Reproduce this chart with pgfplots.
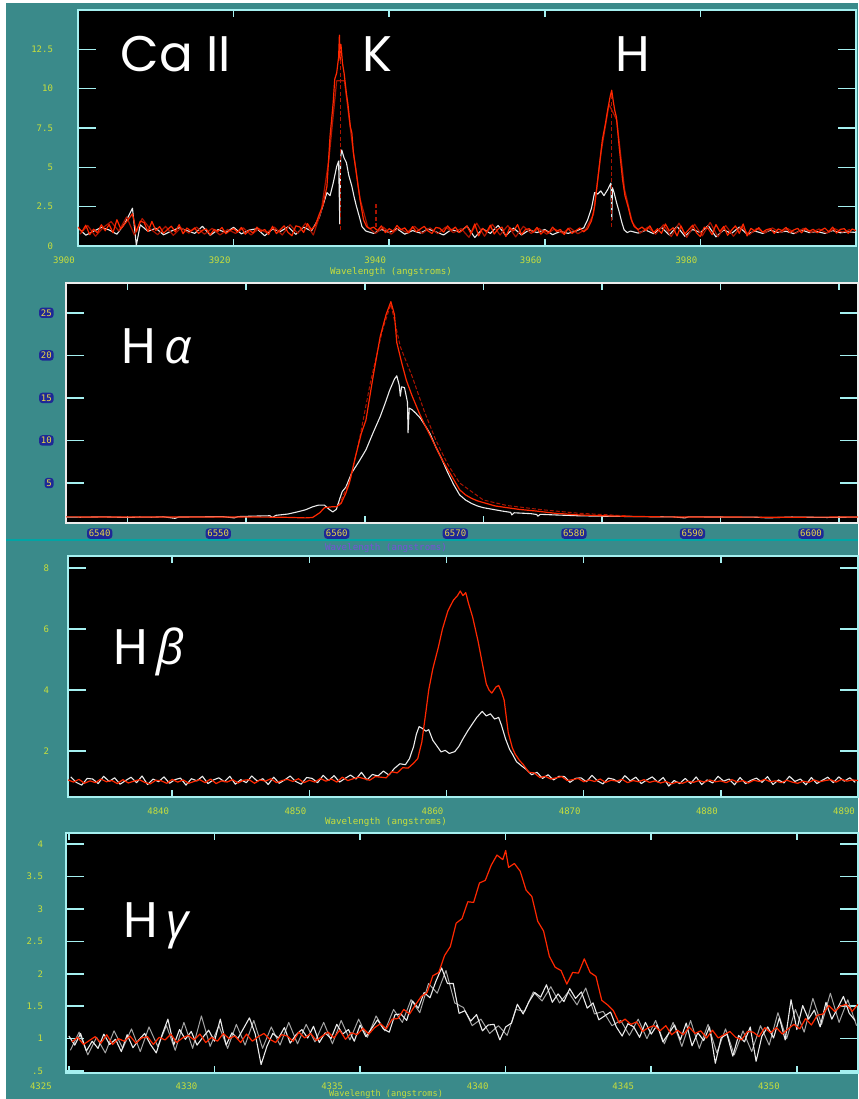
\documentclass[border=0pt]{standalone}
\usepackage{fontspec}
\usepackage{pgfplots}
\pgfplotsset{compat=1.18}
\setmonofont{DejaVu Sans Mono}
\newfontfamily\titlefont{Poppins}
\newfontfamily\greekfont{Open Sans}
\definecolor{bgteal}{RGB}{58,138,138}
\definecolor{axcyan}{RGB}{165,240,240}
\definecolor{tickyel}{RGB}{200,222,60}
\definecolor{specwhite}{RGB}{235,235,235}
\definecolor{specgrey}{RGB}{165,165,165}
\definecolor{specred}{RGB}{255,40,0}
\definecolor{darkred}{RGB}{170,20,0}
\definecolor{bluebox}{RGB}{30,40,150}
\definecolor{boxyel}{RGB}{235,215,70}
\definecolor{violettxt}{RGB}{120,80,215}
\definecolor{sepcyan}{RGB}{0,165,165}
\pgfplotsset{
  spec/.style={
    scale only axis, anchor=south west,
    axis background/.style={fill=black},
    axis line style={draw=axcyan, line width=0.8pt},
    tick align=inside,
    tick style={draw=axcyan, line width=0.8pt},
    xtick style={/pgfplots/major tick length=3.5pt},
    ytick style={/pgfplots/major tick length=9pt},
    tick label style={font=\ttfamily\fontsize{4.5}{5}\selectfont, text=tickyel},
    /pgf/number format/assume math mode=true,
    xticklabel style={xshift=-7pt, yshift=-2pt},
    scaled ticks=false,
    clip=true,
  },
  wline/.style={specwhite, line width=0.55pt, line join=round},
  gline/.style={specgrey, line width=0.5pt, line join=round},
  rline/.style={specred, line width=0.6pt, line join=round},
  drline/.style={darkred, line width=0.6pt, line join=round},
}
\begin{document}
\begin{tikzpicture}
\useasboundingbox (0pt,0pt) rectangle (429pt,549.5pt);
\fill[bgteal] (0pt,0pt) rectangle (429pt,549.5pt);
\fill[white] (0pt,0pt) rectangle (3pt,549.5pt);
\fill[white] (0pt,548pt) rectangle (429pt,549.5pt);
\draw[sepcyan, line width=1.2pt] (3pt,279.5pt) -- (429pt,279.5pt);

% ---------------- Panel 1: Ca II ----------------
\begin{axis}[spec, at={(39pt,426.5pt)}, width=389pt, height=118pt,
  xmin=3900, xmax=4000, ymin=0, ymax=15,
  xtick={3900,3920,3940,3960,3980}, xticklabels={3900,3920,3940,3960,3980},
  ytick={0,2.5,5,7.5,10,12.5}, yticklabels={0,2.5,5,7.5,10,12.5},
  yticklabel style={xshift=-9pt}]
\addplot[wline] coordinates {(3900,1.15)(3901,0.69)(3902,0.94)(3903,1.18)(3904,1.02)(3905,0.75)(3906,1.42)(3907,2.40)(3907.5,0.05)(3908,1.35)(3909,0.93)(3910,1.13)(3911,0.71)(3912,0.95)(3913,1.16)(3914,0.98)(3915,0.80)(3916,1.25)(3917,0.68)(3918,1.04)(3919,0.86)(3920,1.19)(3921,0.77)(3922,1.01)(3923,1.10)(3924,0.65)(3925,1.07)(3926,0.92)(3927,1.22)(3928,0.74)(3929,1.20)(3930,0.95)(3931,1.8)(3931.5,2.6)(3932,3.4)(3932.4,3.2)(3932.8,4.0)(3933.25,5.05)(3933.5,5.4)(3933.65,1.4)(3933.75,5.6)(3933.9,6.1)(3934.2,5.6)(3934.5,5.3)(3934.8,4.5)(3935.2,3.8)(3935.5,3.1)(3935.8,2.5)(3936.2,1.8)(3936.5,1.23)(3937,0.95)(3938,0.80)(3939,1.05)(3940,0.86)(3941,1.10)(3942,0.75)(3943,0.98)(3944,0.82)(3945,1.08)(3946,0.90)(3947,0.70)(3948,1.05)(3949,0.88)(3950,1.26)(3951,0.54)(3952,1.10)(3953,0.80)(3954,1.30)(3955,0.66)(3956,1.14)(3957,0.70)(3958,1.02)(3959,0.85)(3960,1.05)(3961,0.72)(3962,0.93)(3963,0.80)(3964,0.95)(3965,1.15)(3965.5,1.66)(3966,2.4)(3966.4,3.4)(3966.8,3.3)(3967.2,3.5)(3967.6,3.2)(3968.1,3.6)(3968.5,4.0)(3968.6,1.66)(3968.7,3.7)(3968.9,3.4)(3969.2,2.8)(3969.6,2.1)(3969.9,1.5)(3970.2,1.02)(3970.6,0.85)(3971,0.95)(3972,0.82)(3973,1.00)(3974,0.78)(3975,1.18)(3976,0.70)(3977,1.25)(3978,0.62)(3979,1.05)(3980,0.85)(3981,1.30)(3982,0.58)(3983,1.02)(3984,0.80)(3985,1.20)(3986,0.75)(3987,0.95)(3988,0.80)(3989,1.00)(3990,0.86)(3991,0.94)(3992,0.78)(3993,1.02)(3994,0.85)(3995,0.92)(3996,0.80)(3997,0.98)(3998,0.84)(3999,0.90)(4000,0.86)};
\addplot[drline] coordinates {(3900.25,0.75)(3901.25,1.30)(3902.25,0.62)(3903.25,1.18)(3904.25,1.55)(3905.25,0.95)(3906.25,1.85)(3907.25,0.70)(3908.25,1.75)(3909.25,1.10)(3910.25,0.72)(3911.25,1.25)(3912.25,0.68)(3913.25,1.15)(3914.25,0.82)(3915.25,1.20)(3916.25,0.75)(3917.25,1.12)(3918.25,0.70)(3919.25,1.05)(3920.25,0.80)(3921.25,1.15)(3922.25,0.70)(3923.25,1.10)(3924.25,0.85)(3925.25,1.20)(3926.25,0.70)(3927.25,1.35)(3928.25,0.80)(3929.25,1.45)(3930.25,0.70)(3931.25,2.2)(3932.25,5.5)(3933.25,10.5)(3934.25,10.5)(3935.25,6.5)(3936.25,3.0)(3937.25,1.2)(3938.25,0.80)(3939.25,1.20)(3940.25,0.75)(3941.25,1.15)(3942.25,0.85)(3943.25,1.25)(3944.25,0.80)(3945.25,1.15)(3946.25,0.78)(3947.25,1.20)(3948.25,0.85)(3949.25,1.10)(3950.25,0.55)(3951.25,1.45)(3952.25,0.62)(3953.25,1.38)(3954.25,0.70)(3955.25,1.30)(3956.25,0.58)(3957.25,1.25)(3958.25,0.80)(3959.25,1.12)(3960.25,0.75)(3961.25,1.08)(3962.25,0.82)(3963.25,1.15)(3964.25,0.78)(3965.25,1.05)(3966.25,2.0)(3967.25,6.0)(3968.25,9.0)(3969.25,8.0)(3970.25,3.6)(3971.25,1.5)(3972.25,0.82)(3973.25,1.20)(3974.25,0.75)(3975.25,1.35)(3976.25,0.60)(3977.25,1.45)(3978.25,0.55)(3979.25,1.38)(3980.25,0.65)(3981.25,1.50)(3982.25,0.58)(3983.25,1.30)(3984.25,0.62)(3985.25,1.25)(3986.25,0.70)(3987.25,1.12)(3988.25,0.82)(3989.25,1.15)(3990.25,0.85)(3991.25,1.10)(3992.25,0.80)(3993.25,1.12)(3994.25,0.86)(3995.25,1.08)(3996.25,0.82)(3997.25,1.10)(3998.25,0.88)(3999.25,1.05)};
\addplot[rline] coordinates {(3900,1.21)(3900.5,0.90)(3901,1.32)(3901.5,0.72)(3902,1.07)(3902.5,0.83)(3903,1.35)(3903.5,0.97)(3904,1.36)(3904.5,0.84)(3905,1.67)(3905.5,1.08)(3906,1.40)(3906.5,1.71)(3907,2.05)(3907.5,0.90)(3908,1.58)(3908.5,1.49)(3909,0.92)(3909.5,1.56)(3910,0.99)(3910.5,1.23)(3911,0.81)(3911.5,1.05)(3912,1.26)(3912.5,0.90)(3913,1.35)(3913.5,0.78)(3914,1.14)(3914.5,0.96)(3915,1.15)(3915.5,0.80)(3916,1.00)(3916.5,1.08)(3917,0.70)(3917.5,1.05)(3918,0.93)(3918.5,1.18)(3919,0.78)(3919.5,0.98)(3920,1.10)(3920.5,0.88)(3921,1.18)(3921.5,0.75)(3922,1.00)(3922.5,0.83)(3923,1.20)(3923.5,0.93)(3924,1.05)(3924.5,0.73)(3925,1.25)(3925.5,0.79)(3926,1.04)(3926.5,1.28)(3927,0.86)(3927.5,0.65)(3928,1.28)(3928.5,1.21)(3929,0.86)(3929.5,1.42)(3930,1.03)(3930.5,1.31)(3931,2.0)(3931.5,2.6)(3932,3.8)(3932.4,7.0)(3932.8,9.1)(3933,10.6)(3933.25,11.0)(3933.5,12.0)(3933.6,13.4)(3933.7,11.8)(3933.8,12.8)(3934,11.6)(3934.2,11.0)(3934.5,9.7)(3934.7,9.0)(3935,7.6)(3935.2,7.2)(3935.4,5.9)(3935.7,4.9)(3936,3.8)(3936.3,2.8)(3936.7,1.66)(3937.1,1.23)(3937.5,1.10)(3938,1.20)(3938.5,0.98)(3939,1.28)(3939.5,0.85)(3940,1.10)(3940.5,0.93)(3941,1.30)(3941.5,1.03)(3942,1.15)(3942.5,0.83)(3943,1.23)(3943.5,0.90)(3944,1.08)(3944.5,1.25)(3945,0.95)(3945.5,0.80)(3946,1.18)(3946.5,1.13)(3947,0.88)(3947.5,1.28)(3948,1.00)(3948.5,1.20)(3949,0.85)(3949.5,1.05)(3950,1.28)(3950.5,0.80)(3951,1.40)(3951.5,0.64)(3952,1.12)(3952.5,0.88)(3953,1.32)(3953.5,0.76)(3954,1.08)(3954.5,1.20)(3955,0.60)(3955.5,1.16)(3956,0.96)(3956.5,1.36)(3957,0.72)(3957.5,1.04)(3958,1.10)(3958.5,0.88)(3959,1.18)(3959.5,0.75)(3960,1.00)(3960.5,0.83)(3961,1.20)(3961.5,0.93)(3962,1.05)(3962.5,0.73)(3963,1.13)(3963.5,0.80)(3964,0.98)(3964.5,1.15)(3965,0.90)(3965.5,1.10)(3966,1.6)(3966.4,2.5)(3966.8,4.2)(3967.1,5.5)(3967.4,6.75)(3967.8,7.8)(3968.1,8.7)(3968.4,9.5)(3968.6,9.9)(3968.8,9.2)(3969,8.6)(3969.2,8.2)(3969.6,6.1)(3970,4.2)(3970.3,3.2)(3970.7,2.5)(3971.1,1.7)(3971.5,1.23)(3972,1.05)(3972.5,1.20)(3973,0.98)(3973.5,1.28)(3974,0.85)(3974.5,1.10)(3975,0.80)(3975.5,1.40)(3976,0.96)(3976.5,1.16)(3977,0.64)(3977.5,1.28)(3978,0.76)(3978.5,1.04)(3979,1.32)(3979.5,0.84)(3980,0.60)(3980.5,1.20)(3981,1.12)(3981.5,0.72)(3982,1.36)(3982.5,0.92)(3983,1.24)(3983.5,0.68)(3984,1.00)(3984.5,1.28)(3985,0.80)(3985.5,1.40)(3986,0.64)(3986.5,1.12)(3987,0.94)(3987.5,1.16)(3988,0.88)(3988.5,1.04)(3989,1.10)(3989.5,0.80)(3990,1.08)(3990.5,0.98)(3991,1.18)(3991.5,0.86)(3992,1.02)(3992.5,1.12)(3993,0.84)(3993.5,1.14)(3994,0.94)(3994.5,1.06)(3995,0.84)(3995.5,1.00)(3996,1.14)(3996.5,0.90)(3997,1.20)(3997.5,0.82)(3998,1.06)(3998.5,1.10)(3999,0.80)(3999.5,1.08)(4000,0.98)};
\addplot[darkred, line width=0.6pt, dash pattern=on 2pt off 1.2pt] coordinates {(3933.7,1.0)(3933.7,12.5)};
\addplot[darkred, line width=0.6pt, dash pattern=on 2pt off 1.2pt] coordinates {(3968.6,1.2)(3968.6,9.6)};
\addplot[darkred, line width=0.6pt, dash pattern=on 2pt off 1.2pt] coordinates {(3938.3,1.2)(3938.3,2.8)};
\end{axis}

% ---------------- Panel 2: H alpha ----------------
\begin{axis}[spec, at={(33pt,288pt)}, width=396pt, height=120pt,
  xmin=6534.8, xmax=6601.6, ymin=0.3, ymax=28.5,
  axis line style={draw=white!85!gray, line width=1pt},
  xtick={6540,6550,6560,6570,6580,6590,6600}, xticklabels={6540,6550,6560,6570,6580,6590,6600},
  ytick={5,10,15,20,25}, yticklabels={5,10,15,20,25},
  tick label style={text=boxyel, fill=bluebox, rounded corners=1.5pt, inner sep=0.9pt},
  xticklabel style={xshift=-7pt, yshift=-0.5pt},
  yticklabel style={xshift=-6pt}]
\addplot[wline] coordinates {(6534.8,1.00)(6536,0.98)(6538,1.02)(6540,0.95)(6541,1.00)(6542,0.98)(6543,1.03)(6544,0.85)(6544.3,1.00)(6546,1.02)(6548,1.05)(6549,0.90)(6549.3,1.05)(6550,1.08)(6551,1.12)(6552,1.15)(6552.2,0.95)(6552.5,1.2)(6553.5,1.35)(6554.3,1.6)(6555,1.85)(6555.6,2.2)(6556.1,2.4)(6556.6,2.4)(6557,1.9)(6557.3,1.6)(6557.6,1.9)(6557.9,3.2)(6558.1,4.0)(6558.4,4.5)(6558.9,6.2)(6559.5,7.5)(6560.1,8.9)(6560.7,10.9)(6561.3,12.8)(6561.7,14.3)(6562.1,15.9)(6562.5,17.2)(6562.7,17.6)(6562.9,16.5)(6563,15.2)(6563.1,16.3)(6563.35,16.2)(6563.6,14.5)(6563.65,10.9)(6563.75,13.8)(6564,13.6)(6564.3,13.2)(6564.7,12.6)(6565.2,11.5)(6565.5,10.8)(6566,9.2)(6566.5,7.8)(6567,6.2)(6567.5,4.8)(6568,3.6)(6568.5,3.0)(6569,2.6)(6569.5,2.3)(6570,2.1)(6571,1.85)(6571.6,1.7)(6572.3,1.55)(6572.4,1.25)(6572.6,1.5)(6574,1.40)(6574.5,1.3)(6574.6,1.1)(6574.8,1.32)(6576,1.25)(6578,1.15)(6580,1.1)(6583,1.05)(6586,1.02)(6587,0.9)(6587.3,1.02)(6590,1.0)(6593,0.98)(6594,0.9)(6596,1.0)(6599,0.95)(6601.6,1.0)};
\addplot[darkred, line width=0.5pt, dash pattern=on 2pt off 1pt] coordinates {(6557.8,2.3)(6558.8,5.5)(6559.6,10.5)(6560.5,17)(6561.5,23)(6562.2,26.0)(6562.6,23.5)(6563,21)(6564,17.5)(6565,13.5)(6566,10.0)(6567,7.2)(6568,5.0)(6570,3.0)(6572,2.35)(6575,1.85)(6578,1.45)(6582,1.15)};
\addplot[rline] coordinates {(6534.8,1.02)(6540,1.0)(6545,1.0)(6550,1.0)(6553,0.98)(6555,0.90)(6555.6,0.95)(6556.2,1.5)(6556.6,2.1)(6557.2,2.2)(6557.6,2.2)(6558,2.6)(6558.4,3.8)(6558.7,5.0)(6559.2,8.0)(6559.7,10.8)(6560.1,12.4)(6560.7,17.5)(6561.3,22.2)(6561.8,24.8)(6562.2,26.3)(6562.5,24.8)(6562.7,21.5)(6563.1,19.2)(6563.5,17.1)(6564,15.2)(6564.6,13.2)(6565,12.0)(6565.5,10.6)(6566,9.2)(6566.5,7.8)(6567,6.6)(6567.5,5.4)(6568,4.2)(6568.5,3.6)(6569,3.2)(6569.5,2.9)(6570,2.7)(6571,2.3)(6572,2.1)(6573,1.9)(6574.5,1.7)(6576,1.45)(6578,1.25)(6580,1.15)(6582.4,1.08)(6585,1.02)(6590,1.0)(6595,0.98)(6601.6,1.0)};
\end{axis}

% ---------------- Panel 3: H beta ----------------
\begin{axis}[spec, at={(34pt,151pt)}, width=395pt, height=120.5pt,
  xmin=4832.4, xmax=4890, ymin=0.49, ymax=8.4,
  xtick={4840,4850,4860,4870,4880,4890}, xticklabels={4840,4850,4860,4870,4880,4890},
  ytick={2,4,6,8}, yticklabels={2,4,6,8},
  yticklabel style={xshift=-6pt}]
\addplot[wline] coordinates {(4832.6,1.15)(4833,0.97)(4833.4,0.88)(4833.8,1.10)(4834.2,1.08)(4834.6,0.93)(4835,1.17)(4835.4,1.00)(4835.8,1.12)(4836.2,0.91)(4836.6,1.03)(4837,1.14)(4837.4,0.96)(4837.8,1.18)(4838.2,0.90)(4838.6,1.08)(4839,0.99)(4839.4,1.15)(4839.8,0.94)(4840.2,1.06)(4840.6,1.11)(4841,0.88)(4841.4,1.09)(4841.8,1.02)(4842.2,1.17)(4842.6,0.93)(4843,1.05)(4843.4,1.12)(4843.8,0.99)(4844.2,1.17)(4844.6,0.91)(4845,1.06)(4845.4,0.96)(4845.8,1.18)(4846.2,1.01)(4846.6,1.09)(4847,0.90)(4847.4,1.14)(4847.8,0.94)(4848.2,1.05)(4848.6,1.18)(4849,1.00)(4849.4,0.91)(4849.8,1.13)(4850.2,1.10)(4850.6,0.96)(4851,1.20)(4851.4,1.03)(4851.8,1.19)(4852.2,0.98)(4852.6,1.10)(4853,1.21)(4853.4,1.08)(4853.8,1.30)(4854.2,1.05)(4854.6,1.23)(4855,1.18)(4855.4,1.34)(4855.8,1.21)(4856.2,1.43)(4856.6,1.58)(4857,1.55)(4857.3,1.75)(4857.6,2.15)(4857.8,2.55)(4858,2.80)(4858.2,2.75)(4858.5,2.65)(4858.7,2.70)(4859,2.35)(4859.4,2.10)(4859.6,1.97)(4859.9,2.02)(4860.2,1.92)(4860.6,1.98)(4860.9,2.15)(4861.2,2.40)(4861.6,2.70)(4861.9,2.90)(4862.2,3.10)(4862.6,3.30)(4862.9,3.15)(4863.2,3.22)(4863.5,3.05)(4863.8,3.10)(4864,2.85)(4864.3,2.40)(4864.6,2.05)(4864.8,1.90)(4865.1,1.65)(4865.5,1.50)(4865.8,1.40)(4866.2,1.22)(4866.6,1.30)(4867,1.10)(4867.4,1.22)(4867.8,1.05)(4868.2,1.17)(4868.6,1.16)(4869,0.97)(4869.4,1.10)(4869.8,1.12)(4870.2,0.99)(4870.6,1.20)(4871,1.02)(4871.4,0.92)(4871.8,1.11)(4872.2,1.07)(4872.6,0.96)(4873,1.19)(4873.4,1.02)(4873.8,1.14)(4874.2,0.93)(4874.6,1.05)(4875,1.15)(4875.4,0.98)(4875.8,1.13)(4876.2,0.85)(4876.6,1.03)(4877,0.93)(4877.4,1.10)(4877.8,0.93)(4878.2,1.15)(4878.6,0.90)(4879,1.05)(4879.4,0.95)(4879.8,1.17)(4880.2,1.01)(4880.6,1.08)(4881,0.89)(4881.4,1.13)(4881.8,0.93)(4882.2,1.04)(4882.6,1.11)(4883,0.97)(4883.4,1.16)(4883.8,0.90)(4884.2,1.05)(4884.6,0.95)(4885,1.17)(4885.4,1.00)(4885.8,1.08)(4886.2,0.89)(4886.6,1.13)(4887,0.93)(4887.4,1.04)(4887.8,1.14)(4888.2,0.96)(4888.6,1.15)(4889,1.01)(4889.4,1.12)(4889.8,0.97)};
\addplot[rline] coordinates {(4832.4,1.05)(4832.8,0.98)(4833.2,1.07)(4833.6,0.94)(4834,1.02)(4834.4,0.96)(4834.8,1.08)(4835.2,0.99)(4835.6,1.03)(4836,0.93)(4836.4,1.06)(4836.8,0.95)(4837.2,1.01)(4837.6,1.06)(4838,0.97)(4838.4,0.92)(4838.8,1.04)(4839.2,1.02)(4839.6,0.94)(4840,1.07)(4840.4,0.98)(4840.8,1.05)(4841.2,0.94)(4841.6,1.00)(4842,1.06)(4842.4,0.96)(4842.8,1.08)(4843.2,0.93)(4843.6,1.02)(4844,0.98)(4844.4,1.06)(4844.8,0.95)(4845.2,1.04)(4845.6,1.06)(4846,0.94)(4846.4,1.05)(4846.8,1.01)(4847.2,1.09)(4847.6,0.96)(4848,1.03)(4848.4,1.07)(4848.8,1.00)(4849.2,1.09)(4849.6,0.96)(4850,1.04)(4850.4,0.98)(4850.8,1.10)(4851.2,1.01)(4851.6,1.08)(4852,0.98)(4852.4,1.14)(4852.8,1.03)(4853.2,1.09)(4853.6,1.14)(4854,1.09)(4854.4,1.04)(4854.8,1.16)(4855.2,1.14)(4855.6,1.12)(4856,1.32)(4856.4,1.28)(4856.8,1.45)(4857.2,1.44)(4857.6,1.60)(4857.9,1.75)(4858.2,2.3)(4858.5,3.3)(4858.7,4.0)(4859,4.7)(4859.4,5.4)(4859.7,6.0)(4860.1,6.6)(4860.5,6.95)(4860.8,7.1)(4861,7.25)(4861.2,7.1)(4861.4,7.2)(4861.6,6.85)(4861.9,6.4)(4862.3,5.6)(4862.6,4.9)(4862.9,4.2)(4863.1,4.0)(4863.3,3.9)(4863.6,4.1)(4863.8,4.15)(4864,3.95)(4864.2,3.67)(4864.5,2.6)(4864.8,2.1)(4865,1.9)(4865.3,1.7)(4865.6,1.55)(4866,1.30)(4866.4,1.28)(4866.8,1.13)(4867.2,1.17)(4867.6,1.08)(4868,1.12)(4868.4,1.16)(4868.8,1.03)(4869.2,1.06)(4869.6,1.10)(4870,0.99)(4870.4,1.05)(4870.8,1.00)(4871.2,1.08)(4871.6,0.97)(4872,1.04)(4872.4,1.01)(4872.8,1.07)(4873.2,0.96)(4873.6,1.03)(4874,0.99)(4874.4,1.06)(4874.8,0.97)(4875.2,1.02)(4875.6,0.95)(4876,1.00)(4876.4,0.92)(4876.8,0.98)(4877.2,0.94)(4877.6,1.01)(4878,0.97)(4878.4,1.03)(4878.8,0.98)(4879.2,1.05)(4879.6,0.99)(4880,1.02)(4880.4,0.96)(4880.8,1.06)(4881.2,0.98)(4881.6,1.03)(4882,0.95)(4882.4,1.04)(4882.8,1.00)(4883.2,1.07)(4883.6,0.99)(4884,1.02)(4884.4,0.96)(4884.8,1.04)(4885.2,0.98)(4885.6,0.94)(4886,1.01)(4886.4,0.97)(4886.8,1.05)(4887.2,0.99)(4887.6,1.03)(4888,1.06)(4888.4,0.98)(4888.8,1.07)(4889.2,1.01)(4889.6,1.05)(4890,1.03)};
\end{axis}

% ---------------- Panel 4: H gamma ----------------
\begin{axis}[spec, at={(33pt,13pt)}, width=396pt, height=120pt,
  xmin=4324.9, xmax=4352.1, ymin=0.47, ymax=4.17,
  xtick={4325,4330,4335,4340,4345,4350}, xticklabels={4325,4330,4335,4340,4345,4350},
  xticklabel style={xshift=-7pt, yshift=0.5pt},
  ytick={0.5,1,1.5,2,2.5,3,3.5,4}, yticklabels={.5,1,1.5,2,2.5,3,3.5,4},
  yticklabel style={xshift=-8pt}]
\addplot[gline] coordinates {(4325.05,0.82)(4325.35,1.10)(4325.65,0.75)(4325.95,1.02)(4326.25,0.78)(4326.55,1.12)(4326.85,0.85)(4327.15,1.15)(4327.45,0.80)(4327.75,1.18)(4328.05,0.88)(4328.35,1.20)(4328.65,0.82)(4328.95,1.25)(4329.25,0.85)(4329.55,1.35)(4329.85,0.88)(4330.15,1.20)(4330.45,0.85)(4330.75,1.22)(4331.05,0.90)(4331.35,1.28)(4331.65,0.85)(4331.95,1.18)(4332.25,0.90)(4332.55,1.25)(4332.85,0.92)(4333.15,1.22)(4333.45,0.95)(4333.75,1.25)(4334.05,0.92)(4334.35,1.28)(4334.65,0.98)(4334.95,1.30)(4335.25,1.02)(4335.55,1.35)(4335.85,1.12)(4336.15,1.45)(4336.45,1.25)(4336.75,1.60)(4337.05,1.40)(4337.35,1.85)(4337.65,1.70)(4337.95,2.05)(4338.25,1.55)(4338.55,1.48)(4338.85,1.20)(4339.15,1.30)(4339.45,1.08)(4339.75,1.20)(4340.05,1.05)(4340.35,1.45)(4340.65,1.42)(4340.95,1.72)(4341.25,1.58)(4341.55,1.80)(4341.85,1.55)(4342.15,1.72)(4342.45,1.52)(4342.75,1.78)(4343.05,1.38)(4343.35,1.42)(4343.65,1.20)(4343.95,1.28)(4344.25,1.05)(4344.55,1.30)(4344.85,1.00)(4345.15,1.28)(4345.45,0.92)(4345.75,1.25)(4346.05,0.88)(4346.35,1.28)(4346.65,0.85)(4346.95,1.22)(4347.25,0.78)(4347.55,1.15)(4347.85,0.75)(4348.15,1.12)(4348.45,0.80)(4348.75,1.20)(4349.05,0.90)(4349.35,1.40)(4349.65,1.00)(4349.95,1.45)(4350.25,1.10)(4350.55,1.62)(4350.85,1.22)(4351.15,1.70)(4351.45,1.25)(4351.75,1.60)(4352.05,1.20)};
\addplot[wline] coordinates {(4325,1.04)(4325.2,0.90)(4325.4,1.08)(4325.6,0.81)(4325.8,0.96)(4326,0.85)(4326.2,1.07)(4326.4,0.91)(4326.6,0.99)(4326.8,0.80)(4327,1.06)(4327.2,0.86)(4327.4,0.98)(4327.6,1.08)(4327.8,0.91)(4328,0.78)(4328.2,1.06)(4328.4,1.30)(4328.6,0.90)(4328.8,1.14)(4329,0.99)(4329.2,1.11)(4329.4,0.90)(4329.6,1.02)(4329.8,1.13)(4330,0.96)(4330.2,1.30)(4330.4,0.90)(4330.6,1.09)(4330.8,1.00)(4331,1.16)(4331.2,1.32)(4331.4,1.07)(4331.6,0.60)(4331.8,0.88)(4332,1.08)(4332.2,1.01)(4332.4,1.17)(4332.6,0.93)(4332.8,1.06)(4333,1.14)(4333.2,1.01)(4333.4,1.19)(4333.6,0.94)(4333.8,1.09)(4334,1.00)(4334.2,1.22)(4334.4,1.07)(4334.6,1.14)(4334.8,0.96)(4335,1.21)(4335.2,1.03)(4335.4,1.16)(4335.6,1.29)(4335.8,1.15)(4336,1.10)(4336.2,1.37)(4336.4,1.38)(4336.6,1.28)(4336.8,1.58)(4337,1.47)(4337.2,1.71)(4337.4,1.63)(4337.6,1.88)(4337.8,2.09)(4338,1.85)(4338.2,1.85)(4338.4,1.39)(4338.6,1.43)(4338.8,1.27)(4339,1.37)(4339.2,1.12)(4339.4,1.21)(4339.6,1.22)(4339.8,0.98)(4340,1.18)(4340.2,1.24)(4340.4,1.53)(4340.6,1.38)(4340.8,1.57)(4341,1.71)(4341.2,1.64)(4341.4,1.83)(4341.6,1.56)(4341.8,1.69)(4342,1.57)(4342.2,1.77)(4342.4,1.62)(4342.6,1.72)(4342.8,1.47)(4343,1.55)(4343.2,1.29)(4343.4,1.35)(4343.6,1.41)(4343.8,1.18)(4344,1.04)(4344.2,1.23)(4344.4,1.18)(4344.6,1.02)(4344.8,1.25)(4345,1.07)(4345.2,1.21)(4345.4,0.95)(4345.6,1.08)(4345.8,1.21)(4346,0.98)(4346.2,1.24)(4346.4,0.89)(4346.6,1.09)(4346.8,0.97)(4347,1.18)(4347.2,0.62)(4347.4,1.01)(4347.6,1.07)(4347.8,0.73)(4348,1.05)(4348.2,0.95)(4348.4,1.18)(4348.6,0.65)(4348.8,1.04)(4349,1.18)(4349.2,1.01)(4349.4,1.32)(4349.6,0.98)(4349.8,1.60)(4350,1.14)(4350.2,1.51)(4350.4,1.30)(4350.6,1.44)(4350.8,1.18)(4351,1.56)(4351.2,1.30)(4351.4,1.47)(4351.6,1.65)(4351.8,1.39)(4352,1.28)};
\addplot[rline] coordinates {(4325.1,0.95)(4325.3,1.02)(4325.5,0.91)(4325.7,0.97)(4325.9,1.03)(4326.1,0.93)(4326.3,1.06)(4326.5,0.91)(4326.7,1.00)(4326.9,0.96)(4327.1,1.04)(4327.3,0.93)(4327.5,1.01)(4327.7,1.03)(4327.9,0.91)(4328.1,1.02)(4328.3,0.98)(4328.5,1.07)(4328.7,0.94)(4328.9,1.01)(4329.1,1.05)(4329.3,0.98)(4329.5,1.07)(4329.7,0.94)(4329.9,1.02)(4330.1,0.96)(4330.3,1.08)(4330.5,1.00)(4330.7,1.04)(4330.9,0.94)(4331.1,1.07)(4331.3,0.96)(4331.5,1.03)(4331.7,1.08)(4331.9,0.99)(4332.1,0.94)(4332.3,1.06)(4332.5,1.04)(4332.7,0.96)(4332.9,1.10)(4333.1,1.01)(4333.3,1.08)(4333.5,0.97)(4333.7,1.04)(4333.9,1.10)(4334.1,1.01)(4334.3,1.13)(4334.5,0.99)(4334.7,1.09)(4334.9,1.06)(4335.1,1.16)(4335.3,1.07)(4335.5,1.17)(4335.7,1.23)(4335.9,1.15)(4336.1,1.30)(4336.3,1.31)(4336.5,1.45)(4336.7,1.38)(4336.9,1.52)(4337.1,1.65)(4337.3,1.71)(4337.5,1.97)(4337.7,2.02)(4337.9,2.28)(4338.1,2.42)(4338.3,2.78)(4338.5,2.85)(4338.7,3.11)(4338.9,3.10)(4339.1,3.40)(4339.3,3.44)(4339.5,3.67)(4339.7,3.83)(4339.9,3.76)(4340,3.90)(4340.1,3.64)(4340.3,3.70)(4340.5,3.58)(4340.7,3.29)(4340.9,3.19)(4341.1,2.81)(4341.3,2.66)(4341.5,2.27)(4341.7,2.10)(4341.9,2.05)(4342.1,1.84)(4342.3,2.02)(4342.5,2.01)(4342.7,2.23)(4342.9,2.02)(4343.1,1.96)(4343.3,1.59)(4343.5,1.52)(4343.7,1.43)(4343.9,1.24)(4344.1,1.30)(4344.3,1.22)(4344.5,1.26)(4344.7,1.11)(4344.9,1.17)(4345.1,1.20)(4345.3,1.12)(4345.5,1.20)(4345.7,1.06)(4345.9,1.13)(4346.1,1.06)(4346.3,1.18)(4346.5,1.08)(4346.7,1.12)(4346.9,1.01)(4347.1,1.13)(4347.3,1.01)(4347.5,1.06)(4347.7,1.11)(4347.9,1.02)(4348.1,0.98)(4348.3,1.11)(4348.5,1.10)(4348.7,1.03)(4348.9,1.17)(4349.1,1.09)(4349.3,1.17)(4349.5,1.07)(4349.7,1.15)(4349.9,1.22)(4350.1,1.15)(4350.3,1.31)(4350.5,1.21)(4350.7,1.36)(4350.9,1.38)(4351.1,1.51)(4351.3,1.42)(4351.5,1.50)(4351.7,1.53)(4351.9,1.42)(4352.1,1.53)};
\end{axis}

% ---------------- titles and labels ----------------
\begin{scope}[every node/.style={inner sep=0pt, text=white}]
\node[anchor=base west, font=\titlefont\fontsize{25}{25}\selectfont] at (60pt,513.5pt) {Ca II};
\node[anchor=base west, font=\titlefont\fontsize{25}{25}\selectfont] at (181pt,513.5pt) {K};
\node[anchor=base west, font=\titlefont\fontsize{25}{25}\selectfont] at (307.5pt,513.5pt) {H};
\node[anchor=base west, font=\titlefont\fontsize{25}{25}\selectfont] at (60.5pt,367.5pt) {H\,{\greekfont\itshape\fontsize{24}{24}\selectfont α}};
\node[anchor=base west, font=\titlefont\fontsize{25}{25}\selectfont] at (56.5pt,217pt) {H\,{\greekfont\itshape\fontsize{24}{24}\selectfont β}};
\node[anchor=base west, font=\titlefont\fontsize{25}{25}\selectfont] at (61.5pt,80.5pt) {H\,{\greekfont\itshape\fontsize{24}{24}\selectfont γ}};
\end{scope}
\begin{scope}[every node/.style={inner sep=0pt, font=\ttfamily\fontsize{4.6}{5}\selectfont}]
\node[text=tickyel] at (195.5pt,413.5pt) {Wavelength (angstroms)};
\node[text=violettxt] at (193pt,275.5pt) {Wavelength (angstroms)};
\node[text=tickyel] at (193pt,138.5pt) {Wavelength (angstroms)};
\node[text=tickyel, anchor=south, font=\ttfamily\fontsize{4.3}{5}\selectfont] at (193pt,0.2pt) {Wavelength (angstroms)};
\end{scope}
\end{tikzpicture}
\end{document}
